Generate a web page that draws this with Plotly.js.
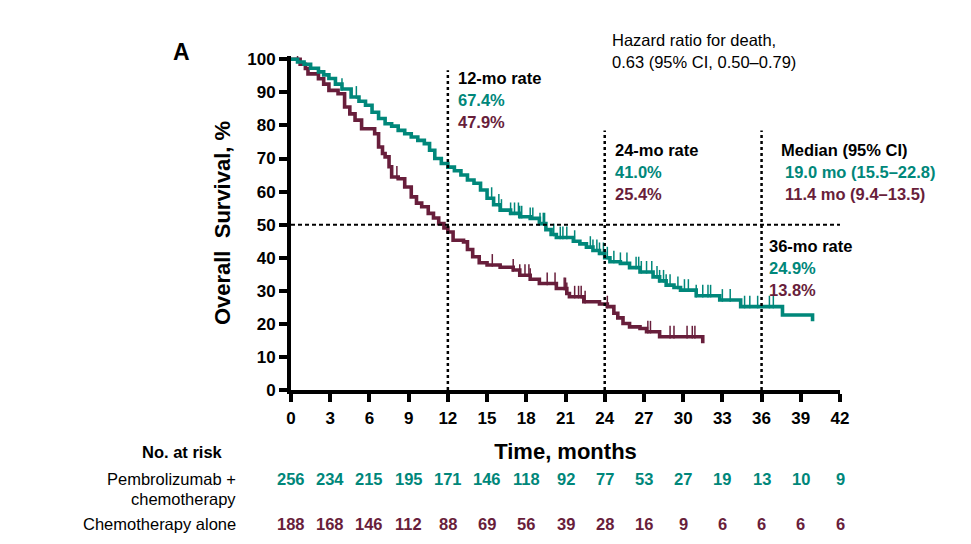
<!DOCTYPE html>
<html>
<head>
<meta charset="utf-8">
<script src="https://cdn.plot.ly/plotly-3.0.1.min.js"></script>
<style>html,body{margin:0;padding:0;background:#fff;}#chart{width:971px;height:544px;}</style>
</head>
<body>
<div id="chart"></div>
<script>
// ---- Data ----
var pembroTime = [0,0.5,1.0,1.5,2.1,2.5,2.9,3.4,3.9,4.6,5.2,5.7,6.2,6.7,7.2,7.7,8.2,8.7,9.2,9.7,10.2,10.6,11.0,11.5,12.0,12.5,13.0,13.5,14.0,14.5,15.0,15.5,16.0,16.8,17.5,18.3,19.0,19.5,19.9,20.3,21.6,22.1,22.6,23.1,23.6,24.0,24.4,25.2,25.9,26.7,27.7,28.2,28.7,29.3,29.8,31.0,32.8,34.4,37.6,39.9];
var pembroSurv = [100,99.2,98.5,97.3,96.2,95.3,94.2,92.5,91.0,88.6,87.3,86.1,84.0,82.1,80.5,79.8,78.5,77.5,76.5,75.5,74.5,72.5,70.0,68.5,67.4,66.3,65.0,63.5,62.5,60.5,58.0,56.0,54.4,53.4,52.4,51.9,50.3,48.5,47.0,46.1,45.0,44.2,43.2,42.2,41.3,40.0,38.8,38.3,37.0,35.7,34.2,33.0,31.7,31.0,30.2,28.5,27.2,25.2,22.7,20.8];
var pembroCensor = [3.9,5.0,15.35,15.9,16.1,16.8,17.1,17.4,17.5,17.65,18.3,18.5,19.05,19.3,19.4,20.1,20.6,20.8,21.1,21.7,22.9,23.1,23.4,23.6,23.9,24.2,24.7,25.2,25.7,26.4,26.6,26.8,27.2,27.6,28.0,28.2,28.5,28.7,29.0,29.6,30.1,30.4,31.0,31.5,31.9,32.1,33.0,33.6,34.7,35.1,35.7,36.6,36.9];

var chemoTime = [0,0.7,1.1,1.3,2.1,2.5,2.9,3.6,4.1,4.5,4.9,5.4,6.4,6.7,7.0,7.2,7.5,7.7,8.2,8.7,9.2,9.6,10.0,10.5,10.9,11.3,11.7,12.0,12.4,13.2,13.5,13.9,14.4,15.0,16.0,17.0,17.5,18.3,19.0,20.3,21.1,21.3,22.4,23.6,24.2,24.7,25.0,25.4,25.9,26.7,27.2,28.2,31.5];
var chemoSurv = [100,98.5,97.2,95.6,94.1,92.5,90.6,89.6,85.6,83.5,81.6,79.0,77.5,73.5,71.5,70.5,67.5,64.4,63.9,61.4,58.4,56.5,55.4,53.4,52.0,50.3,49.0,47.8,45.3,44.8,42.5,40.3,38.5,37.8,37.1,36.3,34.7,33.5,32.2,30.7,29.2,28.2,26.7,26.0,25.2,23.2,21.8,20.1,19.1,18.6,17.6,16.1,14.1];
var chemoCensor = [0.5,8.1,15.4,17.0,17.5,17.9,18.2,18.3,19.6,20.2,20.9,21.0,21.1,21.7,22.0,22.2,22.5,24.2,27.3,27.5,29.0,29.3,30.3,30.7,30.9];

var xTicks = [0,3,6,9,12,15,18,21,24,27,30,33,36,39,42];
var yTicks = [0,10,20,30,40,50,60,70,80,90,100];
var riskTimes = [0,3,6,9,12,15,18,21,24,27,30,33,36,39,42];
var pembroRisk = [256,234,215,195,171,146,118,92,77,53,27,19,13,10,9];
var chemoRisk = [188,168,146,112,88,69,56,39,28,16,9,6,6,6,6];
var landmarkMonths = [12,24,36];
var medianLevel = 50;

var pembroRates = ["67.4%","41.0%","24.9%"];
var chemoRates = ["47.9%","25.4%","13.8%"];
var pembroMedian = "19.0 mo (15.5\u201322.8)";
var chemoMedian = "11.4 mo (9.4\u201313.5)";

// ---- Styles ----
var TEAL = "#00877a";
var MAROON = "#681e3b";
var FONT = "Liberation Sans, Arial, sans-serif";

function stepAt(T, S, t) {
  var v = S[0];
  for (var i = 0; i < T.length; i++) { if (T[i] <= t) v = S[i]; else break; }
  return v;
}
function censorY(T, S, C) { return C.map(function (t) { return stepAt(T, S, t) + 1.4; }); }

var traces = [
  {x: chemoTime, y: chemoSurv, mode: "lines", line: {shape: "hv", color: MAROON, width: 3.6}, hoverinfo: "skip"},
  {x: chemoCensor, y: censorY(chemoTime, chemoSurv, chemoCensor), mode: "markers",
   marker: {symbol: "line-ns", size: 9, color: MAROON, line: {color: MAROON, width: 1.5}}, hoverinfo: "skip"},
  {x: pembroTime, y: pembroSurv, mode: "lines", line: {shape: "hv", color: TEAL, width: 3.6}, hoverinfo: "skip"},
  {x: pembroCensor, y: censorY(pembroTime, pembroSurv, pembroCensor), mode: "markers",
   marker: {symbol: "line-ns", size: 9, color: TEAL, line: {color: TEAL, width: 1.5}}, hoverinfo: "skip"}
];

var shapes = [];
var lmTops = [96.7, 78.5, 78.5];
landmarkMonths.forEach(function (m, i) {
  shapes.push({type: "line", xref: "x", yref: "y", x0: m, x1: m, y0: 0, y1: lmTops[i],
    line: {color: "#000", width: 2.5, dash: "dot"}});
});
shapes.push({type: "line", xref: "x", yref: "y", x0: 0, x1: 42, y0: medianLevel, y1: medianLevel,
  line: {color: "#000", width: 2, dash: "4px,3px"}});

var ann = [];
function txt(x, y, s, color, bold, size, xref, yref, xanchor) {
  ann.push({x: x, y: y, xref: xref || "x", yref: yref || "y", text: s, showarrow: false,
    xanchor: xanchor || "left", yanchor: "middle",
    font: {family: FONT, size: size || 16.5, color: color || "#000", weight: bold ? 700 : 400}});
}
// Panel letter
txt(-0.2, 1.012, "A", "#000", true, 23, "paper", "paper", "center");
// Hazard ratio
txt(24.4, 1.048, "Hazard ratio for death,", "#000", false, 16.5, "x", "paper");
txt(24.4, 0.982, "0.63 (95% CI, 0.50\u20130.79)", "#000", false, 16.5, "x", "paper");
// 12-mo
txt(12.6, 94.3, "12-mo rate", "#000", true);
txt(12.6, 87.6, pembroRates[0], TEAL, true);
txt(12.6, 81.0, chemoRates[0], MAROON, true);
// 24-mo
txt(24.64, 72.5, "24-mo rate", "#000", true);
txt(24.64, 65.9, pembroRates[1], TEAL, true);
txt(24.64, 59.2, chemoRates[1], MAROON, true);
// Median
txt(37.34, 72.5, "Median (95% CI)", "#000", true);
txt(37.64, 65.9, pembroMedian, TEAL, true);
txt(37.64, 59.2, chemoMedian, MAROON, true);
// 36-mo
txt(36.42, 43.5, "36-mo rate", "#000", true);
txt(36.42, 36.9, pembroRates[2], TEAL, true);
txt(36.42, 30.2, chemoRates[2], MAROON, true);

// Risk table
var ROW0 = -0.187, ROW1 = -0.266, ROW1b = -0.326, ROW2 = -0.402;
txt(-0.12, ROW0, "No. at risk", "#000", true, 16.5, "paper", "paper", "right");
txt(-0.096, ROW1, "Pembrolizumab +", "#000", false, 16.5, "paper", "paper", "right");
txt(-0.096, ROW1b, "chemotherapy", "#000", false, 16.5, "paper", "paper", "right");
txt(-0.096, ROW2, "Chemotherapy alone", "#000", false, 16.5, "paper", "paper", "right");
riskTimes.forEach(function (t, i) {
  txt(t, ROW1, String(pembroRisk[i]), TEAL, true, 16.5, "x", "paper", "center");
  txt(t, ROW2, String(chemoRisk[i]), MAROON, true, 16.5, "x", "paper", "center");
});

var tickFont = {family: FONT, size: 17, color: "#000", weight: 700};
var layout = {
  width: 971, height: 544,
  margin: {l: 291, r: 131, t: 56, b: 154},
  paper_bgcolor: "#fff", plot_bgcolor: "#fff",
  showlegend: false,
  xaxis: {range: [0, 42], tickvals: xTicks, ticktext: xTicks.map(String), showgrid: false, zeroline: false,
    showline: true, linecolor: "#000", linewidth: 4, ticks: "outside", ticklen: 8, tickwidth: 4, tickcolor: "#000",
    tickfont: tickFont, ticklabelstandoff: 2,
    title: {text: "Time, months", font: {family: FONT, size: 22, color: "#000", weight: 700}, standoff: 17}},
  yaxis: {range: [0, 101], tickvals: yTicks, ticktext: yTicks.map(String), showgrid: false, zeroline: false,
    showline: true, linecolor: "#000", linewidth: 4, ticks: "outside", ticklen: 8, tickwidth: 4, tickcolor: "#000",
    tickfont: tickFont,
    title: {text: "Overall \u00a0Survival, %", font: {family: FONT, size: 22, color: "#000", weight: 700}, standoff: 12}},
  shapes: shapes,
  annotations: ann
};
Plotly.newPlot("chart", traces, layout, {displayModeBar: false, staticPlot: true});
</script>
</body>
</html>
